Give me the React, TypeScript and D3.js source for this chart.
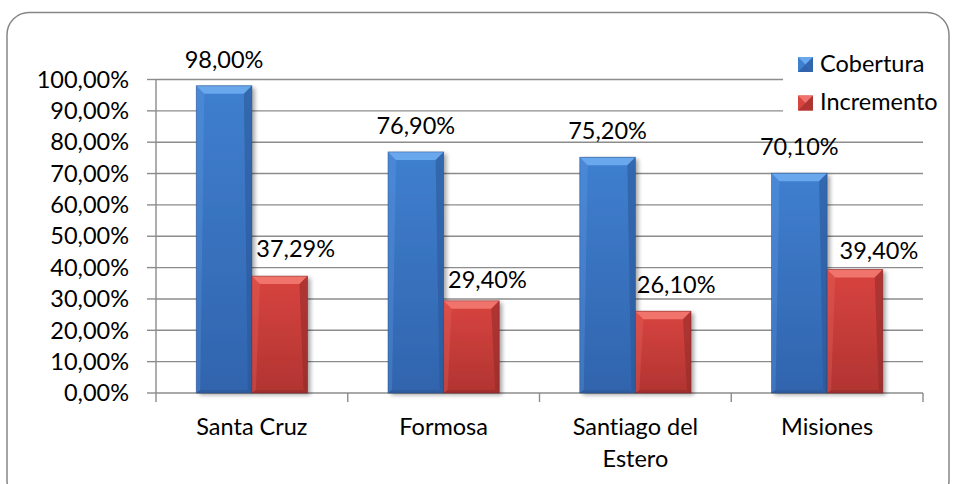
import React, { useRef, useEffect } from "react";
import * as d3 from "d3";

// data
const categories = ["Santa Cruz", "Formosa", "Santiago del Estero", "Misiones"];
const seriesNames = ["Cobertura", "Incremento"];
const cobertura = [0.98, 0.769, 0.752, 0.701];
const incremento = [0.3729, 0.294, 0.261, 0.394];

// manual label nudges (dx, dy) like in the original sheet
const labelNudge: Record<string, [number, number][]> = {
    Cobertura: [[0, 0], [0, 0], [0, 0], [0, 0]],
    Incremento: [[16, -1], [16, 5], [13, 0], [24, 8]],
};

const W = 957;
const H = 484;
const FONT = "Lato, 'Open Sans', sans-serif";
const FS = 23.5;

const palette: Record<string, { top: string; bottom: string; bevel: string; bevelDark: string; edge: string }> = {
    Cobertura: { top: "#3f7fcf", bottom: "#3164ad", bevel: "#6aa8ee", bevelDark: "#2a5696", edge: "#24497f" },
    Incremento: { top: "#d8443f", bottom: "#b13432", bevel: "#f0746c", bevelDark: "#8f2a28", edge: "#7a2220" },
};

const esLocale = d3.formatLocale({ decimal: ",", thousands: ".", grouping: [3], currency: ["", "€"], percent: "%" });
const fmt = esLocale.format(".2%");

export default function App() {
    const svgRef = useRef<SVGSVGElement>(null);

    useEffect(() => {
        document.body.style.margin = "0";
        if (!svgRef.current) return;
        const svg = d3.select(svgRef.current);
        svg.selectAll("*").remove();

        const txt = (sel: any) => sel
            .attr("font-family", FONT).attr("font-size", FS).attr("fill", "#000")
            .style("font-variant-ligatures", "none").style("font-feature-settings", "'liga' 0, 'clig' 0");

        const x0 = d3.scaleBand<string>().domain(categories).range([156, 923]).paddingInner(0.42).paddingOuter(0.21);
        const x1 = d3.scaleBand<string>().domain(seriesNames).range([0, x0.bandwidth()]);
        const y = d3.scaleLinear().domain([0, 1]).range([393, 79.5]);
        const catStep = x0.step();
        const catLeft = 156;

        const defs = svg.append("defs");
        seriesNames.forEach(s => {
            const p = palette[s];
            const g = defs.append("linearGradient").attr("id", `body-${s}`).attr("x1", 0).attr("x2", 0).attr("y1", 0).attr("y2", 1);
            g.append("stop").attr("offset", "0%").attr("stop-color", p.top);
            g.append("stop").attr("offset", "100%").attr("stop-color", p.bottom);
        });
        const sh = defs.append("filter").attr("id", "shadow").attr("x", "-20%").attr("y", "-20%").attr("width", "150%").attr("height", "150%");
        sh.append("feGaussianBlur").attr("in", "SourceAlpha").attr("stdDeviation", 2.2);
        sh.append("feOffset").attr("dx", 2.5).attr("dy", 2).attr("result", "ob");
        sh.append("feComponentTransfer").append("feFuncA").attr("type", "linear").attr("slope", 0.35);
        const mg = sh.append("feMerge");
        mg.append("feMergeNode");
        mg.append("feMergeNode").attr("in", "SourceGraphic");

        // chart border
        svg.append("rect")
            .attr("x", 7).attr("y", 12.5).attr("width", 942).attr("height", 490).attr("rx", 22)
            .attr("fill", "#fff").attr("stroke", "#868686").attr("stroke-width", 1.5);

        // gridlines
        const ticks = d3.range(0, 11).map(i => i / 10);
        svg.append("g").selectAll("line").data(ticks.slice(1)).join("line")
            .attr("x1", 156).attr("x2", 923)
            .attr("y1", d => y(d)).attr("y2", d => y(d))
            .attr("stroke", "#8c8c8c").attr("stroke-width", 1.4);

        // y axis
        const ya = svg.append("g");
        ya.append("line").attr("x1", 156).attr("x2", 156).attr("y1", y(1)).attr("y2", y(0)).attr("stroke", "#8c8c8c").attr("stroke-width", 1.4);
        ya.selectAll("line.tk").data(ticks).join("line").attr("class", "tk")
            .attr("x1", 147).attr("x2", 156).attr("y1", d => y(d)).attr("y2", d => y(d))
            .attr("stroke", "#8c8c8c").attr("stroke-width", 1.4);
        ya.selectAll("text").data(ticks).join("text")
            .attr("x", 129).attr("y", d => y(d)).attr("dy", "0.35em")
            .attr("text-anchor", "end").call(txt)
            .text(d => fmt(d));

        // x axis
        const xa = svg.append("g");
        xa.append("line").attr("x1", 156).attr("x2", 923).attr("y1", y(0)).attr("y2", y(0)).attr("stroke", "#8c8c8c").attr("stroke-width", 1.4);
        xa.selectAll("line.tk").data(d3.range(categories.length + 1)).join("line").attr("class", "tk")
            .attr("x1", i => catLeft + i * catStep).attr("x2", i => catLeft + i * catStep)
            .attr("y1", y(0)).attr("y2", y(0) + 9)
            .attr("stroke", "#8c8c8c").attr("stroke-width", 1.4);
        const catText = xa.selectAll("text").data(categories).join("text")
            .attr("x", d => x0(d)! + x0.bandwidth() / 2).attr("y", 435)
            .attr("text-anchor", "middle").call(txt);
        catText.each(function (d) {
            const t = d3.select(this);
            const words = d.split(" ");
            let line: string[] = [];
            let tspan = t.append("tspan").attr("x", t.attr("x")).attr("dy", 0);
            words.forEach(w => {
                line.push(w);
                tspan.text(line.join(" "));
                if ((tspan.node() as SVGTSpanElement).getComputedTextLength() > catStep * 0.92 && line.length > 1) {
                    line.pop();
                    tspan.text(line.join(" "));
                    line = [w];
                    tspan = t.append("tspan").attr("x", t.attr("x")).attr("dy", 32).text(w);
                }
            });
        });

        // bars
        const data = categories.map((c, i) => ({ c, i, vals: [{ s: "Cobertura", v: cobertura[i] }, { s: "Incremento", v: incremento[i] }] }));
        const groups = svg.append("g").selectAll("g").data(data).join("g")
            .attr("transform", d => `translate(${x0(d.c)},0)`);
        const bars = groups.selectAll("g.bar").data(d => d.vals.map(v => ({ ...v, i: d.i }))).join("g").attr("class", "bar");
        const bw = x1.bandwidth();
        const b = 8;
        bars.each(function (d) {
            const g = d3.select(this);
            const p = palette[d.s];
            const xl = x1(d.s)!;
            const xr = xl + bw;
            const yt = y(d.v);
            const yb = y(0);
            g.append("rect").attr("x", xl).attr("y", yt).attr("width", bw).attr("height", yb - yt)
                .attr("fill", `url(#body-${d.s})`).attr("filter", "url(#shadow)");
            // bevel: top light, right dark, left slight light
            g.append("polygon").attr("points", `${xl},${yt} ${xr},${yt} ${xr - b},${yt + b} ${xl + b},${yt + b}`)
                .attr("fill", p.bevel);
            g.append("polygon").attr("points", `${xr},${yt} ${xr},${yb} ${xr - 4},${yb - 3} ${xr - b},${yt + b}`)
                .attr("fill", p.bevelDark).attr("opacity", 0.55);
            g.append("polygon").attr("points", `${xl},${yt} ${xl + b},${yt + b} ${xl + 4},${yb - 3} ${xl},${yb}`)
                .attr("fill", p.bevel).attr("opacity", 0.25);
            g.append("polygon").attr("points", `${xl},${yb} ${xl + 4},${yb - 3} ${xr - 4},${yb - 3} ${xr},${yb}`)
                .attr("fill", p.bevelDark).attr("opacity", 0.5);
            g.append("rect").attr("x", xl).attr("y", yt).attr("width", bw).attr("height", yb - yt)
                .attr("fill", "none").attr("stroke", p.edge).attr("stroke-width", 0.8).attr("stroke-opacity", 0.6);
            const [dx, dy] = labelNudge[d.s][d.i];
            g.append("text")
                .attr("x", xl + bw / 2 + dx).attr("y", yt - 18 + dy)
                .attr("text-anchor", "middle").call(txt)
                .text(fmt(d.v));
        });

        // legend
        const lg = svg.append("g");
        lg.append("rect").attr("x", 783).attr("y", 45).attr("width", 160).attr("height", 70).attr("fill", "#fff");
        seriesNames.forEach((s, i) => {
            const p = palette[s];
            const sx = 798, sy = 57 + i * 38.5, sz = 15, c = sz / 2;
            const it = lg.append("g").attr("transform", `translate(${sx},${sy})`);
            it.append("rect").attr("width", sz).attr("height", sz).attr("fill", p.top);
            it.append("polygon").attr("points", `0,0 ${sz},0 ${c},${c}`).attr("fill", p.bevel);
            it.append("polygon").attr("points", `${sz},0 ${sz},${sz} ${c},${c}`).attr("fill", p.bevelDark).attr("opacity", 0.6);
            it.append("polygon").attr("points", `0,${sz} ${sz},${sz} ${c},${c}`).attr("fill", p.bottom);
            lg.append("text").attr("x", 820).attr("y", sy + 14.5).call(txt).text(s);
        });
    }, []);

    return <svg ref={svgRef} width={W} height={H} style={{ display: "block" }} />;
}
